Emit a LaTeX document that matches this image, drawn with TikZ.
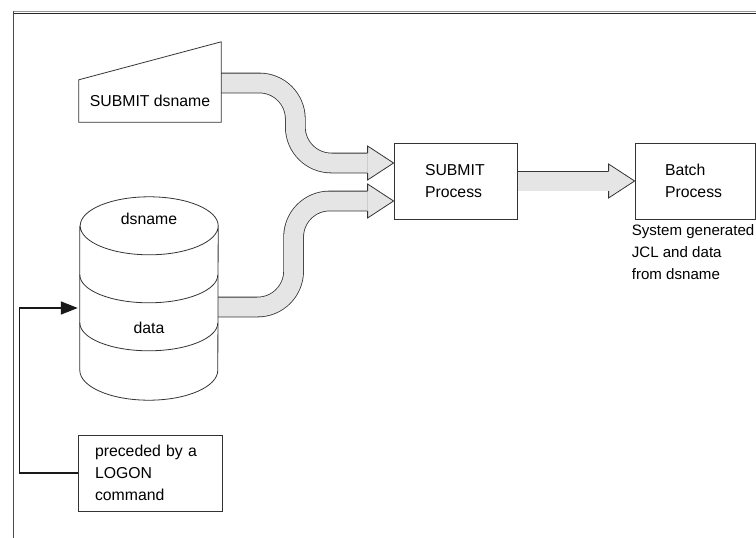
\documentclass[tikz,border=0pt]{standalone}
\usepackage{fontspec}
\setmainfont{Liberation Sans}
\usepackage{tikz}
\usetikzlibrary{calc,arrows.meta}
\pgfdeclarelayer{background layer}
\pgfsetlayers{background layer,main}
\definecolor{gray9}{gray}{0.9}
\definecolor{gray6}{gray}{0.6}
\definecolor{ink}{gray}{0.2}
\newcommand{\fathead}[1]{\filldraw[draw=ink,fill=gray9,line width=0.8pt,line join=miter]
  ([shift={(-26pt,10pt)}]#1) -- ++(0,7pt) -- (#1) -- ++(-26pt,-17pt) -- ++(0,7pt);}

\begin{document}
\begin{tikzpicture}
[x=1pt,y=1pt,font=\fontsize{15.8}{22}\selectfont]
\tikzstyle{plain}=[draw=ink,line width=0.8pt,align=left,minimum height=76pt]
\tikzstyle{fat}=[draw=ink,line width=0.8pt,double=gray9,double distance=19pt,rounded corners=36pt]
\tikzstyle{outline}=[draw=ink,line width=0.8pt]

\useasboundingbox (0,0) rectangle (756,-538);

% frame
\draw [gray6,line width=0.8pt] (13,-11) -- (756,-11);
\draw [black!85,line width=1.6pt] (13,-13.6) -- (756,-13.6);
\draw [black!70,line width=0.9pt] (13,-11) -- (13,-538);

\draw node [plain,text width=61pt,inner xsep=31pt] at (455.5,-181) (proc) {SUBMIT\\Process};
\draw node [plain,text width=60pt,inner xsep=30pt] at (695,-181) (batch) {Batch\\Process};
\draw node [anchor=north west,align=left,inner sep=0pt,font=\fontsize{15.1}{22}\selectfont] at ([xshift=-3pt,yshift=-5pt]batch.south west) (jcl) {System generated\\JCL and data\\from dsname};

% manual input
\draw node [minimum width=142pt,minimum height=42pt,inner sep=0pt] at (150,-101) (dsin) {SUBMIT dsname};
\draw [outline] (dsin.south west) -- (dsin.south east) -- ([yshift=38pt]dsin.north east) -- (dsin.north west) -- cycle;

% data set
\draw node [minimum width=138pt,minimum height=144pt,inner sep=0pt] at (149,-298) (disk) {};
\draw node at (149,-219) (dsn) {dsname};
\draw node at (149,-328) (dat) {data};
\draw [outline] (disk.north west) -- (disk.south west) arc[start angle=180,end angle=360,x radius=69pt,y radius=30pt] -- (disk.north east) arc[start angle=0,end angle=360,x radius=69pt,y radius=29pt];
\foreach \d in {49,97}
  \draw [outline] ([yshift=-\d pt]disk.north west) arc[start angle=180,end angle=360,x radius=69pt,y radius=28pt];

\draw node [plain,text width=110pt,inner xsep=17pt] at (150,-473) (logon) {preceded by a\\LOGON\\command};
\draw [black!90,line width=1.5pt,-{Triangle[length=17pt,width=13pt]},shorten >=2pt] (logon.west) -- ++(-58pt,0) |- ([yshift=-10pt]disk.west);

\coordinate (a1) at ([yshift=18pt]dsin.east);
\coordinate (h1) at ([yshift=18pt]proc.west);
\coordinate (m1) at ($(a1)!.43!(h1)$);
\coordinate (a2) at ([yshift=-9pt]disk.east);
\coordinate (h2) at ([yshift=-20pt]proc.west);
\coordinate (m2) at ($(a2)!.43!(h2)$);

\begin{pgfonlayer}{background layer}
\draw [fat] (a1) -- (a1 -| m1) -- (h1 -| m1) -- ([xshift=-26pt]h1);
\fathead{h1}
\draw [fat] (a2) -- (a2 -| m2) -- (h2 -| m2) -- ([xshift=-26pt]h2);
\fathead{h2}
\draw [fat] (proc.east) -- ([xshift=-26pt]batch.west);
\fathead{batch.west}
\end{pgfonlayer}

\end{tikzpicture}
\end{document}
